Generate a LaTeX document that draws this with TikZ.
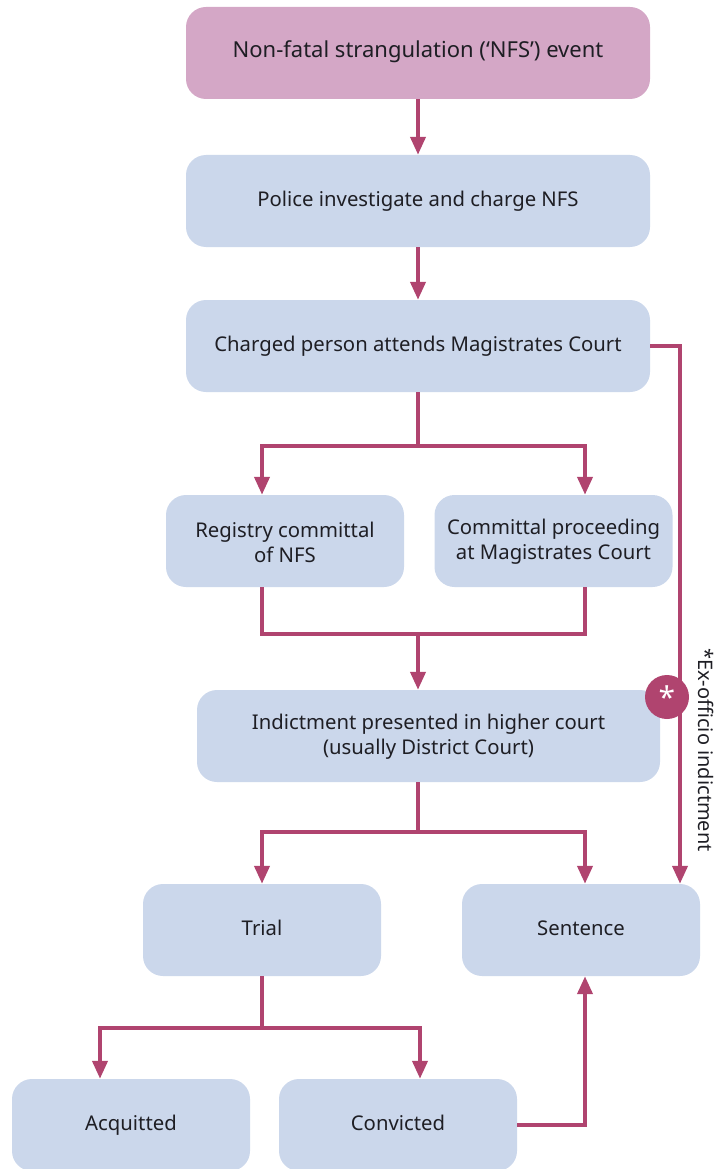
\documentclass[tikz,border=0pt]{standalone}
\usepackage{fontspec}
\setmainfont{Noto Sans}
\usetikzlibrary{arrows.meta,calc}
\definecolor{boxblue}{HTML}{CBD7EB}
\definecolor{boxpink}{HTML}{D4A7C6}
\definecolor{arrowmag}{HTML}{B0446F}
\definecolor{txt}{HTML}{1E1E24}
\begin{document}
\begin{tikzpicture}[x=1pt,y=-1pt,
  box/.style={rectangle,rounded corners=20pt,fill=boxblue,inner sep=0pt,
    align=center,text=txt,font=\fontsize{20.3}{25}\selectfont},
  one/.style={text height=15pt,text depth=5pt},
  two/.style={text height=33pt,text depth=11pt},
  wide/.style={minimum width=464pt,minimum height=92pt},
  narrow/.style={minimum width=238pt,minimum height=92pt},
  link/.style={draw=arrowmag,line width=4pt},
  arr/.style={link,-{Triangle[width=15pt,length=18pt]}},
]
\useasboundingbox (0,0) rectangle (716,1169);
% nodes
\node[box,wide,one,fill=boxpink,font=\fontsize{22}{26}\selectfont] (nfs) at (418,53) {Non-fatal strangulation (‘NFS’) event};
\node[box,wide,one] (police) at (418,201) {Police investigate and charge NFS};
\node[box,wide,one] (charged) at (418,346) {Charged person attends Magistrates Court};
\node[box,narrow] (registry) at (285,541) {\strut Registry committal\\of NFS};
\node[box,narrow] (committal) at (553.5,541) {\strut Committal proceeding\\at Magistrates Court};
\node[box,minimum width=463pt,minimum height=92pt] (indict) at (428.5,736) {\strut Indictment presented in higher court\\(usually District Court)};
\node[box,narrow,one] (trial) at (262,930) {Trial};
\node[box,narrow,one] (sentence) at (581,930) {Sentence};
\node[box,narrow,one] (acq) at (131,1125) {Acquitted};
\node[box,narrow,one] (conv) at (398,1125) {Convicted};
% helper coordinates
\coordinate (b1) at (418,446);
\coordinate (b1l) at (262,446);
\coordinate (b1r) at (585,446);
\coordinate (m1) at (418,634);
\coordinate (m1l) at (262,634);
\coordinate (m1r) at (585,634);
\coordinate (b2) at (418,832);
\coordinate (b2l) at (262,832);
\coordinate (b2r) at (585,832);
\coordinate (b3) at (262,1028);
\coordinate (b3l) at (100,1028);
\coordinate (b3r) at (420,1028);
\coordinate (exr) at (680,346);
% connectors
\draw[arr] (nfs.south) -- (police.north);
\draw[arr] (police.south) -- (charged.north);
\draw[link] (charged.south) -- (b1);
\draw[arr,line cap=rect] (b1) -- (b1l) -- (b1l |- registry.north);
\draw[arr,line cap=rect] (b1) -- (b1r) -- (b1r |- committal.north);
\draw[link] (registry.south -| m1l) -- (m1l) -- (m1r) -- (committal.south -| m1r);
\draw[arr] (m1) -- (m1 |- indict.north);
\draw[link] (indict.south -| b2) -- (b2);
\draw[arr,line cap=rect] (b2) -- (b2l) -- (b2l |- trial.north);
\draw[arr,line cap=rect] (b2) -- (b2r) -- (b2r |- sentence.north);
\draw[link] (trial.south -| b3) -- (b3);
\draw[arr,line cap=rect] (b3) -- (b3l) -- (b3l |- acq.north);
\draw[arr,line cap=rect] (b3) -- (b3r) -- (b3r |- conv.north);
\draw[arr] (conv.east) -| (b2r |- sentence.south);
\draw[arr] (charged.east) -- (exr) -- (exr |- sentence.north);
% star marker and label
\node[circle,fill=arrowmag,minimum size=44pt,inner sep=0pt,text=white,
  font=\fontsize{30}{30}\selectfont] (star) at (667,697) {\raisebox{-7pt}{*}};
\node[rotate=-90,text=txt,font=\fontsize{20}{24}\selectfont] (exlab) at (706,750) {*Ex-officio indictment};
\end{tikzpicture}
\end{document}
